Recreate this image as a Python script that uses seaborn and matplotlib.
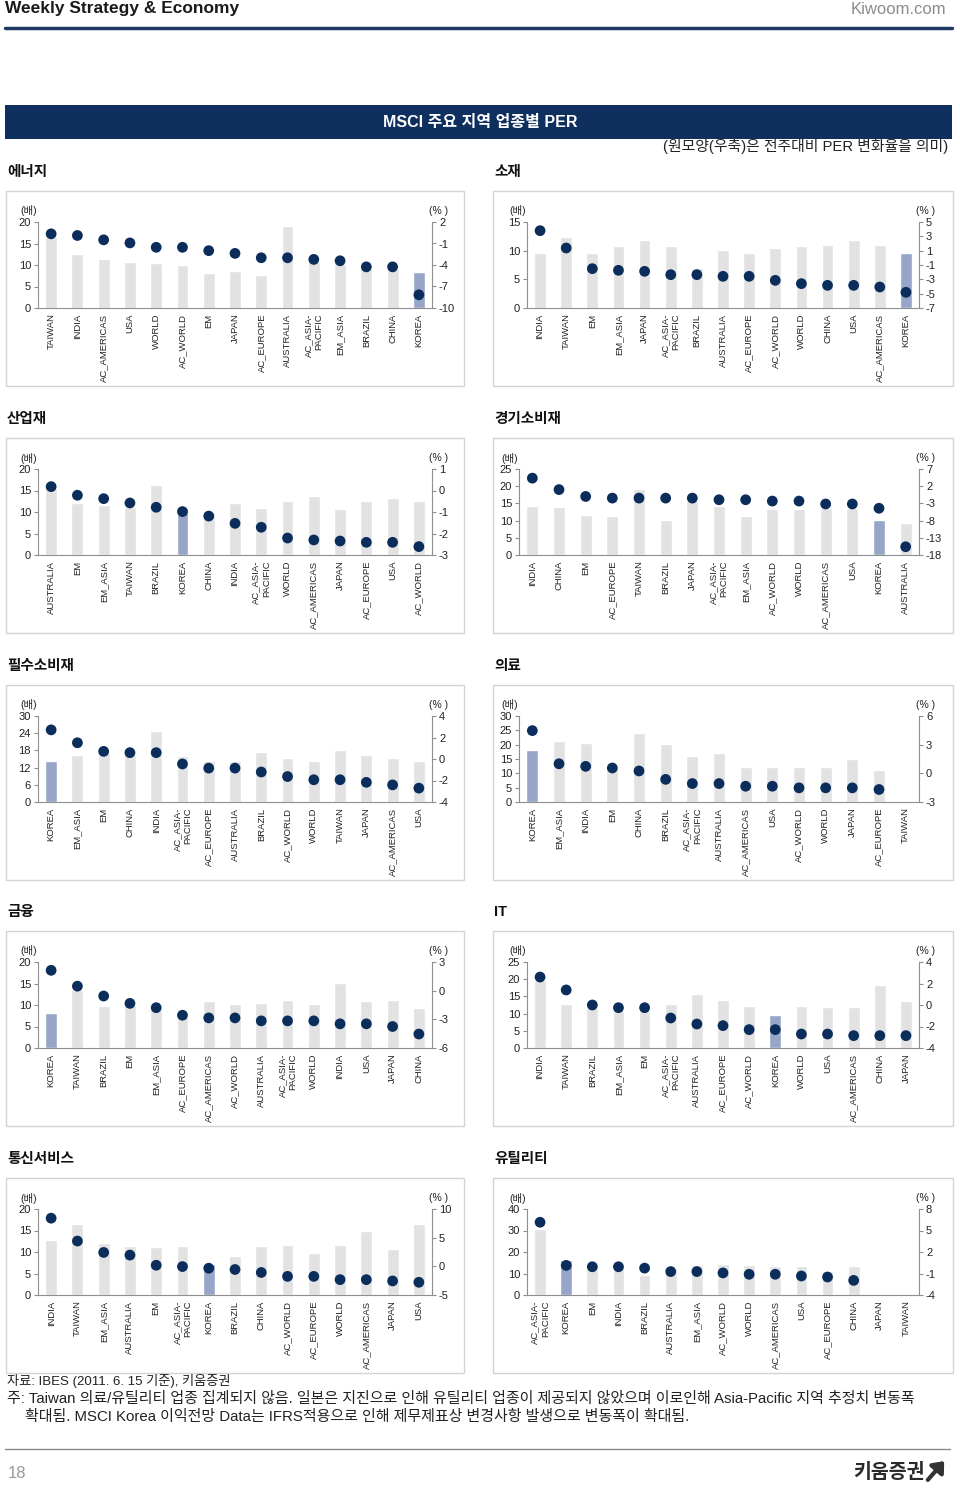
import numpy as np
import pandas as pd
import matplotlib
matplotlib.use("Agg")
import matplotlib.pyplot as plt
from matplotlib.patches import Rectangle, FancyArrowPatch
from matplotlib.lines import Line2D
import seaborn as sns

# ---------------- data ----------------
energy_cats = ["TAIWAN", "INDIA", "AC_AMERICAS", "USA", "WORLD", "AC_WORLD", "EM", "JAPAN",
               "AC_EUROPE", "AUSTRALIA", "AC_ASIA-PACIFIC", "EM_ASIA", "BRAZIL", "CHINA", "KOREA"]
energy_per = [16.5, 12.5, 11.5, 10.8, 10.4, 10.1, 8.1, 8.5, 7.7, 19.1, 11.0, 10.2, 9.0, 9.0, 8.4]
energy_chg = [0.35, 0.12, -0.49, -0.92, -1.53, -1.53, -2.0, -2.38, -2.99, -2.99, -3.22, -3.41, -4.26, -4.26, -8.16]
energy_lt = [0, 5, 10, 15, 20]
energy_rt = [-10, -7, -4, -1, 2]

mat_cats = ["INDIA", "TAIWAN", "EM", "EM_ASIA", "JAPAN", "AC_ASIA-PACIFIC", "BRAZIL", "AUSTRALIA",
            "AC_EUROPE", "AC_WORLD", "WORLD", "CHINA", "USA", "AC_AMERICAS", "KOREA"]
mat_per = [9.6, 12.4, 9.6, 10.8, 11.9, 10.8, 7.0, 10.1, 9.6, 10.5, 10.8, 11.0, 11.9, 11.0, 9.6]
mat_chg = [3.79, 1.37, -1.51, -1.74, -1.88, -2.35, -2.35, -2.58, -2.58, -3.14, -3.6, -3.84, -3.84, -4.07, -4.81]
mat_lt = [0, 5, 10, 15]
mat_rt = [-7, -5, -3, -1, 1, 3, 5]

ind_cats = ["AUSTRALIA", "EM", "EM_ASIA", "TAIWAN", "BRAZIL", "KOREA", "CHINA", "INDIA",
            "AC_ASIA-PACIFIC", "WORLD", "AC_AMERICAS", "JAPAN", "AC_EUROPE", "USA", "AC_WORLD"]
ind_per = [15.5, 12.0, 11.6, 11.2, 16.3, 11.0, 10.1, 12.0, 11.0, 12.6, 13.7, 10.6, 12.6, 13.3, 12.6]
ind_chg = [0.18, -0.22, -0.38, -0.58, -0.78, -0.98, -1.19, -1.53, -1.71, -2.21, -2.30, -2.35, -2.41, -2.41, -2.61]
ind_lt = [0, 5, 10, 15, 20]
ind_rt = [-3, -2, -1, 0, 1]

disc_cats = ["INDIA", "CHINA", "EM", "AC_EUROPE", "TAIWAN", "BRAZIL", "JAPAN", "AC_ASIA-PACIFIC",
             "EM_ASIA", "AC_WORLD", "WORLD", "AC_AMERICAS", "USA", "KOREA", "AUSTRALIA"]
disc_per = [14.3, 13.9, 11.7, 11.3, 19.2, 10.2, 15.7, 14.3, 11.3, 13.5, 13.5, 13.8, 13.8, 10.1, 9.3]
disc_chg = [4.34, 1.01, -0.98, -1.46, -1.46, -1.46, -1.46, -1.94, -1.94, -2.32, -2.32, -3.17, -3.17, -4.41, -15.6]
disc_lt = [0, 5, 10, 15, 20, 25]
disc_rt = [-18, -13, -8, -3, 2, 7]

stap_cats = ["KOREA", "EM_ASIA", "EM", "CHINA", "INDIA", "AC_ASIA-PACIFIC", "AC_EUROPE", "AUSTRALIA",
             "BRAZIL", "AC_WORLD", "WORLD", "TAIWAN", "JAPAN", "AC_AMERICAS", "USA"]
stap_per = [14.4, 16.5, 17.5, 16.9, 24.9, 16.0, 14.3, 14.3, 17.4, 15.2, 14.4, 18.3, 16.5, 15.2, 14.4]
stap_chg = [2.71, 1.51, 0.71, 0.59, 0.59, -0.46, -0.85, -0.85, -1.21, -1.63, -1.93, -1.93, -2.17, -2.41, -2.71]
stap_lt = [0, 6, 12, 18, 24, 30]
stap_rt = [-4, -2, 0, 2, 4]

hc_cats = ["KOREA", "EM_ASIA", "INDIA", "EM", "CHINA", "BRAZIL", "AC_ASIA-PACIFIC", "AUSTRALIA",
           "AC_AMERICAS", "USA", "AC_WORLD", "WORLD", "JAPAN", "AC_EUROPE", "TAIWAN"]
hc_per = [18.1, 21.2, 20.6, 11.5, 24.1, 20.2, 16.1, 17.2, 12.1, 12.1, 12.1, 12.1, 15.1, 11.1, np.nan]
hc_chg = [4.47, 1.0, 0.73, 0.56, 0.25, -0.63, -1.07, -1.07, -1.35, -1.35, -1.52, -1.52, -1.52, -1.69, np.nan]
hc_lt = [0, 5, 10, 15, 20, 25, 30]
hc_rt = [-3, 0, 3, 6]

fin_cats = ["KOREA", "TAIWAN", "BRAZIL", "EM", "EM_ASIA", "AC_EUROPE", "AC_AMERICAS", "AC_WORLD",
            "AUSTRALIA", "AC_ASIA-PACIFIC", "WORLD", "INDIA", "USA", "JAPAN", "CHINA"]
fin_per = [8.1, 13.5, 9.8, 10.0, 9.0, 7.2, 10.9, 10.2, 10.5, 11.2, 10.2, 15.2, 10.9, 11.2, 9.2]
fin_chg = [2.13, 0.47, -0.56, -1.33, -1.78, -2.57, -2.85, -2.85, -3.16, -3.16, -3.16, -3.47, -3.47, -3.75, -4.54]
fin_lt = [0, 5, 10, 15, 20]
fin_rt = [-6, -3, 0, 3]

it_cats = ["INDIA", "TAIWAN", "BRAZIL", "EM_ASIA", "EM", "AC_ASIA-PACIFIC", "AUSTRALIA", "AC_EUROPE",
           "AC_WORLD", "KOREA", "WORLD", "USA", "AC_AMERICAS", "CHINA", "JAPAN"]
it_per = [19.9, 12.8, 11.6, 11.1, 11.1, 12.8, 15.8, 13.9, 12.3, 9.7, 12.3, 11.9, 11.9, 18.4, 13.8]
it_chg = [2.60, 1.40, 0.0, -0.25, -0.25, -1.21, -1.77, -1.92, -2.29, -2.29, -2.70, -2.70, -2.85, -2.85, -2.85]
it_lt = [0, 5, 10, 15, 20, 25]
it_rt = [-4, -2, 0, 2, 4]

tel_cats = ["INDIA", "TAIWAN", "EM_ASIA", "AUSTRALIA", "EM", "AC_ASIA-PACIFIC", "KOREA", "BRAZIL",
            "CHINA", "AC_WORLD", "AC_EUROPE", "WORLD", "AC_AMERICAS", "JAPAN", "USA"]
tel_per = [12.8, 16.5, 12.2, 11.4, 11.2, 11.4, 7.1, 9.0, 11.4, 11.6, 9.7, 11.6, 14.8, 10.8, 16.5]
tel_chg = [8.40, 4.41, 2.42, 1.96, 0.19, -0.04, -0.33, -0.55, -1.07, -1.75, -1.75, -2.32, -2.32, -2.55, -2.78]
tel_lt = [0, 5, 10, 15, 20]
tel_rt = [-5, 0, 5, 10]

util_cats = ["AC_ASIA-PACIFIC", "KOREA", "EM", "INDIA", "BRAZIL", "AUSTRALIA", "EM_ASIA", "AC_WORLD",
             "WORLD", "AC_AMERICAS", "USA", "AC_EUROPE", "CHINA", "JAPAN", "TAIWAN"]
util_per = [30.8, 16.1, 13.0, 13.8, 9.2, 12.6, 13.9, 14.2, 13.9, 13.4, 13.4, 11.1, 13.4, np.nan, np.nan]
util_chg = [6.15, 0.13, -0.06, -0.06, -0.25, -0.73, -0.73, -0.92, -1.11, -1.11, -1.35, -1.49, -1.96, np.nan, np.nan]
util_lt = [0, 10, 20, 30, 40]
util_rt = [-4, -1, 2, 5, 8]

titles = ["에너지", "소재", "산업재", "경기소비재", "필수소비재", "의료", "금융", "IT", "통신서비스", "유틸리티"]

# ---------------- style ----------------
sns.set_theme(style="white")
plt.rcParams['font.family'] = ['Liberation Sans', 'Noto Sans CJK KR', 'DejaVu Sans']
plt.rcParams['axes.unicode_minus'] = False

XFS, YFS = 6.8, 8.0

W, H = 960, 1491
NAVY = "#0f2f5f"
DOT = "#0b2d5c"
BAR = "#e2e2e2"
KOR = "#97a5c8"
SPINE = "#8f8f8f"
TXT = "#222222"

fig = plt.figure(figsize=(W / 100, H / 100), dpi=100)
fig.patch.set_facecolor("white")


def fx(x):
    return x / W


def fy(y):
    return 1 - y / H


def ftext(x, y, s, **kw):
    return fig.text(fx(x), fy(y), s, **kw)


def frect(x0, y0, x1, y1, **kw):
    fig.add_artist(Rectangle((fx(x0), fy(y1)), (x1 - x0) / W, (y1 - y0) / H,
                             transform=fig.transFigure, **kw))


def fline(x0, x1, y, **kw):
    fig.add_artist(Line2D([fx(x0), fx(x1)], [fy(y), fy(y)], transform=fig.transFigure, **kw))


def add_axes(x0, y0, x1, y1):
    return fig.add_axes([fx(x0), fy(y1), (x1 - x0) / W, (y1 - y0) / H])


# ---------------- header ----------------
ftext(5, 9, "Weekly Strategy & Economy", fontsize=12.5, fontweight="bold", color="#1a1a1a",
      ha="left", va="center")
ftext(946, 9, "Kiwoom.com", fontsize=12, color="#8c8c8c", ha="right", va="center")
fline(5, 952, 28, color="#1f3864", lw=2.5)

frect(5, 105, 952, 139, facecolor=NAVY, edgecolor="none", zorder=-2)
ftext(480, 122, "MSCI 주요 지역 업종별 PER", fontsize=11.5, fontweight="bold", color="white",
      ha="center", va="center")
ftext(948, 147, "(원모양(우축)은 전주대비 PER 변화율을 의미)", fontsize=10.7, color=TXT,
      ha="right", va="center")

# ---------------- panels ----------------
panels = [
    (energy_cats, energy_per, energy_chg, energy_lt, energy_rt),
    (mat_cats, mat_per, mat_chg, mat_lt, mat_rt),
    (ind_cats, ind_per, ind_chg, ind_lt, ind_rt),
    (disc_cats, disc_per, disc_chg, disc_lt, disc_rt),
    (stap_cats, stap_per, stap_chg, stap_lt, stap_rt),
    (hc_cats, hc_per, hc_chg, hc_lt, hc_rt),
    (fin_cats, fin_per, fin_chg, fin_lt, fin_rt),
    (it_cats, it_per, it_chg, it_lt, it_rt),
    (tel_cats, tel_per, tel_chg, tel_lt, tel_rt),
    (util_cats, util_per, util_chg, util_lt, util_rt),
]

ROW_Y = [190, 437, 684, 930, 1177]
BOX_X = [(6, 464), (493, 953)]
AX_X = [(38, 432), (527, 919)]
AX_X_WIDE = (519, 919)

for k, (cats, per, chg, lt, rt) in enumerate(panels):
    row, col = divmod(k, 2)
    oy = ROW_Y[row]
    bx0, bx1 = BOX_X[col]
    ax0, ax1 = AX_X[col]
    if k in (3, 5):
        ax0, ax1 = AX_X_WIDE

    ftext(bx0 + 1, oy - 18, titles[k], fontsize=10.5, fontweight="bold", color="#111111",
          ha="left", va="center")
    frect(bx0, oy + 1, bx1, oy + 196, facecolor="white", edgecolor="#d4d4d4", lw=1, zorder=-2)

    ax = add_axes(ax0, oy + 32, ax1, oy + 118)
    ax.patch.set_alpha(0)
    n = len(cats)
    df = pd.DataFrame({"cat": cats, "per": per, "chg": chg})
    pal = {c: (KOR if c == "KOREA" else BAR) for c in cats}
    sns.barplot(data=df, x="cat", y="per", hue="cat", order=cats, hue_order=cats,
                palette=pal, width=0.45, saturation=1, legend=False, ax=ax, errorbar=None)

    ax2 = ax.twinx()
    sns.scatterplot(x=np.arange(n), y=np.array(chg, dtype=float), ax=ax2, color=DOT, s=60,
                    edgecolor="none", legend=False, zorder=5)

    ax.set_xlim(-0.5, n - 0.5)
    ax.set_ylim(lt[0], lt[-1])
    ax.set_yticks(lt)
    ax.set_yticklabels([str(t) for t in lt], fontsize=YFS, color=TXT)
    ax2.set_ylim(rt[0], rt[-1])
    ax2.set_yticks(rt)
    ax2.set_yticklabels([str(t) for t in rt], fontsize=YFS, color=TXT)

    labels = [c.replace("AC_ASIA-PACIFIC", "AC_ASIA-\nPACIFIC") for c in cats]
    ax.set_xticks(np.arange(n))
    ax.set_xticklabels(labels, rotation=90, fontsize=XFS, color=TXT, ha="center", va="top",
                       multialignment="right", linespacing=1.2)
    ax.set_xticks(np.arange(n + 1) - 0.5, minor=True)
    ax.tick_params(axis="x", which="major", length=0, pad=4)
    ax.tick_params(axis="x", which="minor", length=3, width=0.8, color=SPINE, direction="out")
    ax.tick_params(axis="y", length=3, width=0.8, color=SPINE, direction="out", pad=2, left=True)
    ax2.tick_params(axis="y", length=3, width=0.8, color=SPINE, direction="out", pad=2, right=True)
    ax.set_xlabel("")
    ax.set_ylabel("")
    ax2.set_ylabel("")
    ax2.set_xlabel("")

    for s in ["top", "right"]:
        ax.spines[s].set_visible(False)
    for s in ["left", "bottom"]:
        ax.spines[s].set_color(SPINE)
        ax.spines[s].set_linewidth(0.8)
    for s in ["top", "left", "bottom"]:
        ax2.spines[s].set_visible(False)
    ax2.spines["right"].set_color(SPINE)
    ax2.spines["right"].set_linewidth(0.8)
    ax.grid(False)
    ax2.grid(False)

    ftext(ax0 - 1, oy + 21, "(배)", fontsize=7.5, color=TXT, ha="right", va="center")
    ftext(ax1 - 3, oy + 21, "(% )", fontsize=7.5, color=TXT, ha="left", va="center")

# ---------------- footer ----------------
ftext(7, 1381, "자료: IBES (2011. 6. 15 기준), 키움증권", fontsize=9.5, color=TXT, ha="left", va="center")
ftext(7, 1399, "주: Taiwan 의료/유틸리티 업종 집계되지 않음. 일본은 지진으로 인해 유틸리티 업종이 제공되지 않았으며 "
      "이로인해 Asia-Pacific 지역 추정치 변동폭", fontsize=10.8, color=TXT, ha="left", va="center")
ftext(25, 1417, "확대됨. MSCI Korea 이익전망 Data는 IFRS적용으로 인해 제무제표상 변경사항 발생으로 변동폭이 확대됨.",
      fontsize=10.8, color=TXT, ha="left", va="center")
fline(5, 950, 1449, color="#8a8a8a", lw=1)
ftext(8, 1473, "18", fontsize=12, color="#9a9a9a", ha="left", va="center")
ftext(925, 1472, "키움증권", fontsize=14, fontweight="bold", color="#2a2a2a", ha="right", va="center")
fig.add_artist(FancyArrowPatch((fx(926), fy(1482)), (fx(946), fy(1459)), transform=fig.transFigure,
                               arrowstyle="-|>,head_length=6,head_width=5", color="#333333", lw=3))

fig.savefig("out.png", dpi=100, facecolor="white")
